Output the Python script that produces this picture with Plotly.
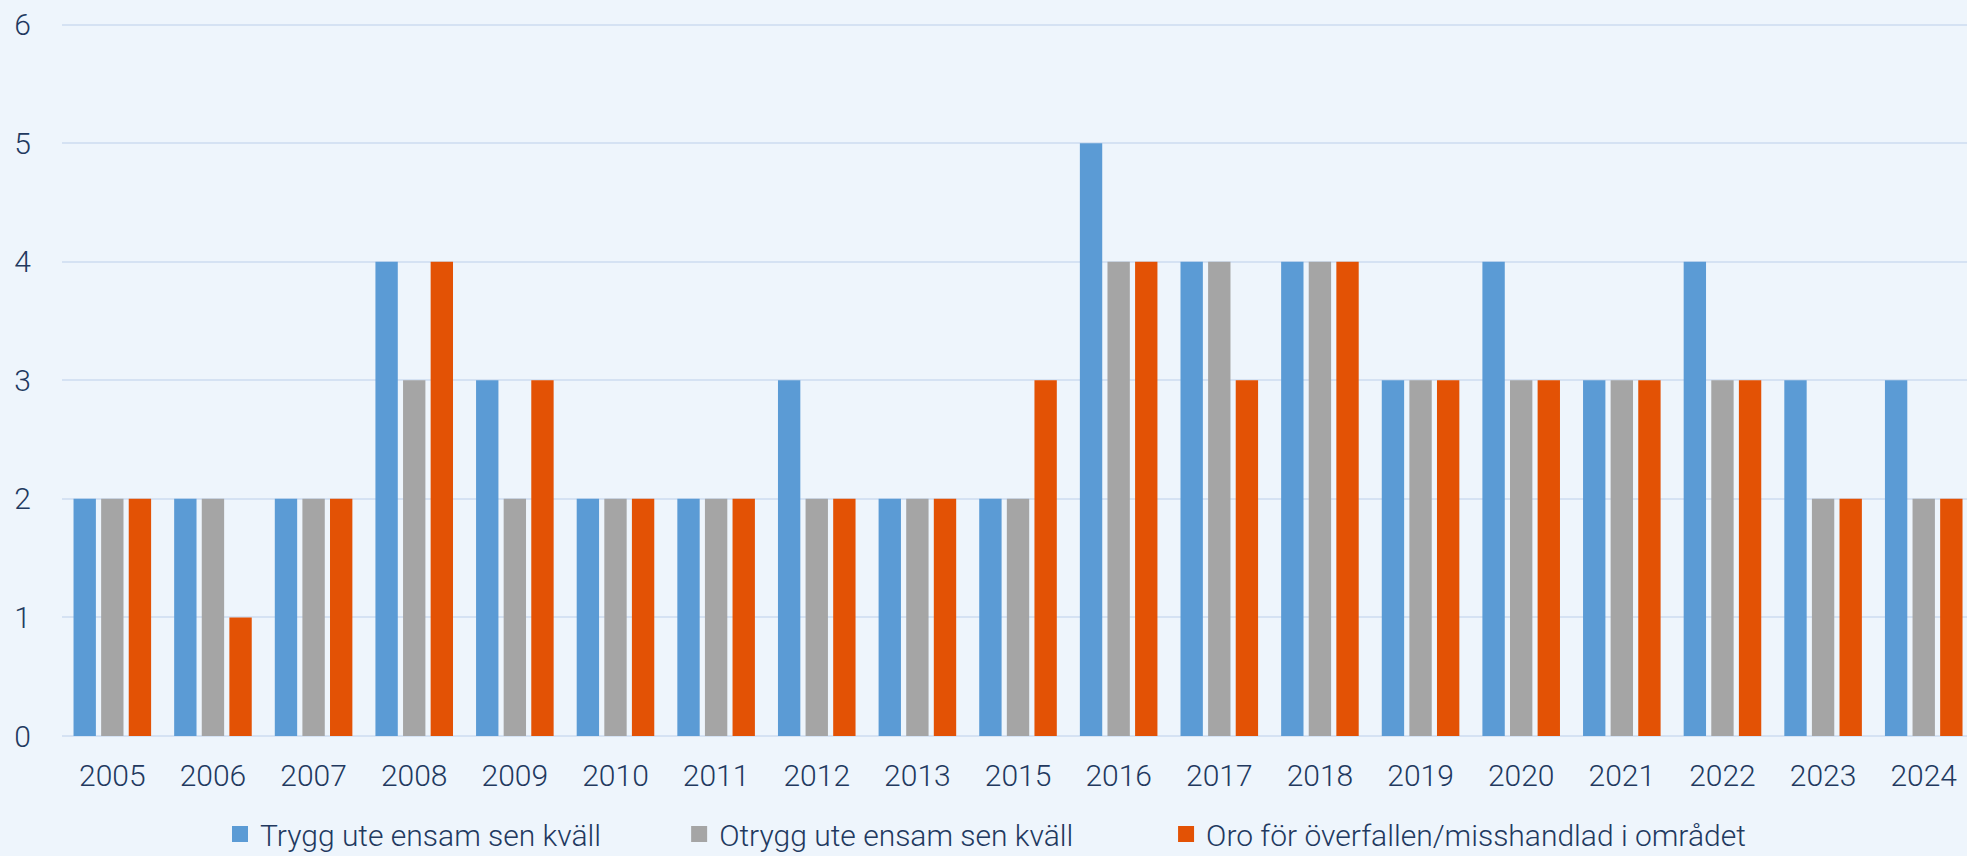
import plotly.graph_objects as go

years = ["2005", "2006", "2007", "2008", "2009", "2010", "2011", "2012", "2013", "2015",
         "2016", "2017", "2018", "2019", "2020", "2021", "2022", "2023", "2024"]
trygg = [2, 2, 2, 4, 3, 2, 2, 3, 2, 2, 5, 4, 4, 3, 4, 3, 4, 3, 3]
otrygg = [2, 2, 2, 3, 2, 2, 2, 2, 2, 2, 4, 4, 4, 3, 3, 3, 3, 2, 2]
oro = [2, 1, 2, 4, 3, 2, 2, 2, 2, 3, 4, 3, 4, 3, 3, 3, 3, 2, 2]

names = ["Trygg ute ensam sen kväll", "Otrygg ute ensam sen kväll",
         "Oro för överfallen/misshandlad i området"]
colors = ["#5B9BD5", "#A5A5A5", "#E35205"]
series = [trygg, otrygg, oro]

BG = "#EEF5FC"
GRID = "#D5E2F3"
TXT = "#22395F"
PADS = ["\u00a0" * 10, "\u00a0" * 12, ""]

fig = go.Figure()
for name, vals, col in zip(names, series, colors):
    fig.add_trace(go.Bar(x=years, y=vals, name=name, marker_color=col,
                         marker_line_width=0, showlegend=False))
for name, col, pad in zip(names, colors, PADS):
    fig.add_trace(go.Scatter(x=[None], y=[None], mode="markers", name=name + pad,
                             marker=dict(symbol="square", size=17, color=col),
                             showlegend=True))

fig.update_layout(
    width=1967, height=856,
    margin=dict(l=62, r=0, t=21, b=120),
    paper_bgcolor=BG, plot_bgcolor=BG,
    font=dict(family="Roboto", size=30, color=TXT, weight=300),
    barmode="group", bargap=0.177, bargroupgap=0.19,
    legend=dict(orientation="h", xref="paper", x=(220 - 62) / 1905, xanchor="left",
                yref="container", y=22 / 856, yanchor="middle",
                font=dict(family="Roboto", size=30, color=TXT, weight=300),
                bgcolor="rgba(0,0,0,0)", itemsizing="trace"),
    xaxis=dict(type="category", categoryorder="array", categoryarray=years,
               range=[-0.5, 18.43], showgrid=False, zeroline=False, automargin=False,
               showline=False, ticks="", ticklabelstandoff=19, fixedrange=True),
    yaxis=dict(range=[0, 6.03], tickvals=[0, 1, 2, 3, 4, 5, 6], showgrid=True,
               gridcolor=GRID, gridwidth=2,
               zeroline=True, zerolinecolor=GRID, zerolinewidth=2, automargin=False,
               showline=False, ticks="", ticklabelstandoff=30, fixedrange=True),
)

fig.write_html("out.html", config={"displayModeBar": False},
               post_script="document.body.style.margin='0';document.body.style.overflow='hidden';")
